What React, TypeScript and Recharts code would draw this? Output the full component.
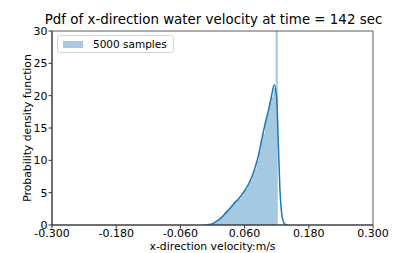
import {
  ComposedChart,
  Area,
  Line,
  XAxis,
  YAxis,
  Label,
  Legend,
  ReferenceArea,
} from "recharts";

// histogram bins (left edges) and heights; last edge closes the step
const binStarts = [
  0.002, 0.006, 0.01, 0.014, 0.018, 0.022, 0.026, 0.03, 0.034, 0.038,
  0.042, 0.046, 0.05, 0.054, 0.058, 0.062, 0.066, 0.07, 0.074, 0.078,
  0.082, 0.086, 0.09, 0.094, 0.098, 0.102, 0.106, 0.11, 0.114, 0.118, 0.122,
];
const binHeights = [
  0.3, 0.5, 0.8, 1.2, 1.5, 1.9, 2.3, 2.6, 2.9, 3.2,
  3.5, 3.9, 4.1, 4.5, 5.3, 5.6, 6.3, 6.9, 7.8, 8.6,
  9.9, 11.4, 13.2, 14.1, 16.2, 17.3, 19.0, 19.8, 21.2, 34.0, 0,
];

// kernel density estimate
const kdeX = [
  -0.015, -0.008, 0.0, 0.008, 0.016, 0.024, 0.032, 0.04, 0.048, 0.056,
  0.064, 0.072, 0.08, 0.086, 0.092, 0.098, 0.104, 0.11, 0.1155, 0.12,
  0.123, 0.126, 0.129, 0.132, 0.136, 0.14,
];
const kdeY = [
  0, 0.05, 0.2, 0.6, 1.1, 1.8, 2.5, 3.3, 4.0, 4.8,
  5.8, 7.1, 9.0, 10.8, 13.2, 15.5, 17.5, 19.8, 21.7, 19.6,
  12.6, 5.6, 2.0, 0.6, 0.1, 0,
];

const xTicks = [-0.3, -0.18, -0.06, 0.06, 0.18, 0.3];
const yTicks = [0, 5, 10, 15, 20, 25, 30];
const legendLabel = "5000 samples";

const histData = binStarts.map((x, i) => ({ x, count: binHeights[i] }));
const kdeData = kdeX.map((x, i) => ({ x, density: kdeY[i] }));

const FONT = "'DejaVu Sans', sans-serif";
const BAR_FILL = "#a5c9e1";
const LINE = "#1f77b4";

function LegendBox() {
  return (
    <div
      style={{
        display: "flex",
        alignItems: "center",
        border: "1px solid #d6d6d6",
        borderRadius: 3,
        background: "rgba(255,255,255,0.8)",
        padding: "1px 6px 1px 5px",
        fontFamily: FONT,
        fontSize: 10.5,
        color: "#000",
        height: 14,
      }}
    >
      <span style={{ display: "inline-block", width: 20, height: 7, background: BAR_FILL, marginRight: 10 }} />
      <span>{legendLabel}</span>
    </div>
  );
}

export default function App() {
  return (
    <div style={{ position: "absolute", left: 0, top: 0, width: 415, height: 253, background: "#fff" }}>
      <div
        style={{
          position: "absolute",
          left: 0,
          width: 427,
          top: 12,
          textAlign: "center",
          fontFamily: FONT,
          fontSize: 13.4,
          color: "#000",
          whiteSpace: "nowrap",
        }}
      >
        Pdf of x-direction water velocity at time = 142 sec
      </div>
      <ComposedChart width={415} height={253} margin={{ top: 31, right: 42, bottom: 0, left: 0 }}>
        <XAxis
          dataKey="x"
          type="number"
          domain={[-0.3, 0.3]}
          ticks={xTicks}
          tickFormatter={(v: number) => v.toFixed(3)}
          height={28}
          stroke="#333"
          tickSize={3.5}
          tickMargin={1}
          tick={{ fontSize: 11, fontFamily: FONT, fill: "#000" }}
          allowDataOverflow
        >
          <Label
            value="x-direction velocity:m/s"
            position="insideBottom"
            offset={3}
            style={{ fontSize: 10.8, fontFamily: FONT, fill: "#000" }}
          />
        </XAxis>
        <YAxis
          type="number"
          domain={[0, 30]}
          ticks={yTicks}
          width={52}
          stroke="#333"
          tickSize={3.5}
          tickMargin={1}
          tick={{ fontSize: 11, fontFamily: FONT, fill: "#000" }}
          allowDataOverflow
        >
          <Label
            value="Probability density function"
            angle={-90}
            position="insideLeft"
            offset={27}
            style={{ fontSize: 10.8, fontFamily: FONT, fill: "#000", textAnchor: "middle" }}
          />
        </YAxis>
        <Area
          data={histData}
          dataKey="count"
          type="stepAfter"
          stroke="none"
          fill={BAR_FILL}
          fillOpacity={1}
          isAnimationActive={false}
          name={legendLabel}
        />
        <Line
          data={kdeData}
          dataKey="density"
          type="monotone"
          stroke={LINE}
          strokeWidth={1.5}
          dot={false}
          isAnimationActive={false}
          legendType="none"
        />
        <ReferenceArea x1={-0.3} x2={0.3} y1={0} y2={30} fill="none" stroke="#333" strokeWidth={0.8} />
        <Legend
          layout="vertical"
          align="center"
          verticalAlign="middle"
          wrapperStyle={{ left: 57, top: 35, width: "auto" }}
          content={() => <LegendBox />}
        />
      </ComposedChart>
    </div>
  );
}
